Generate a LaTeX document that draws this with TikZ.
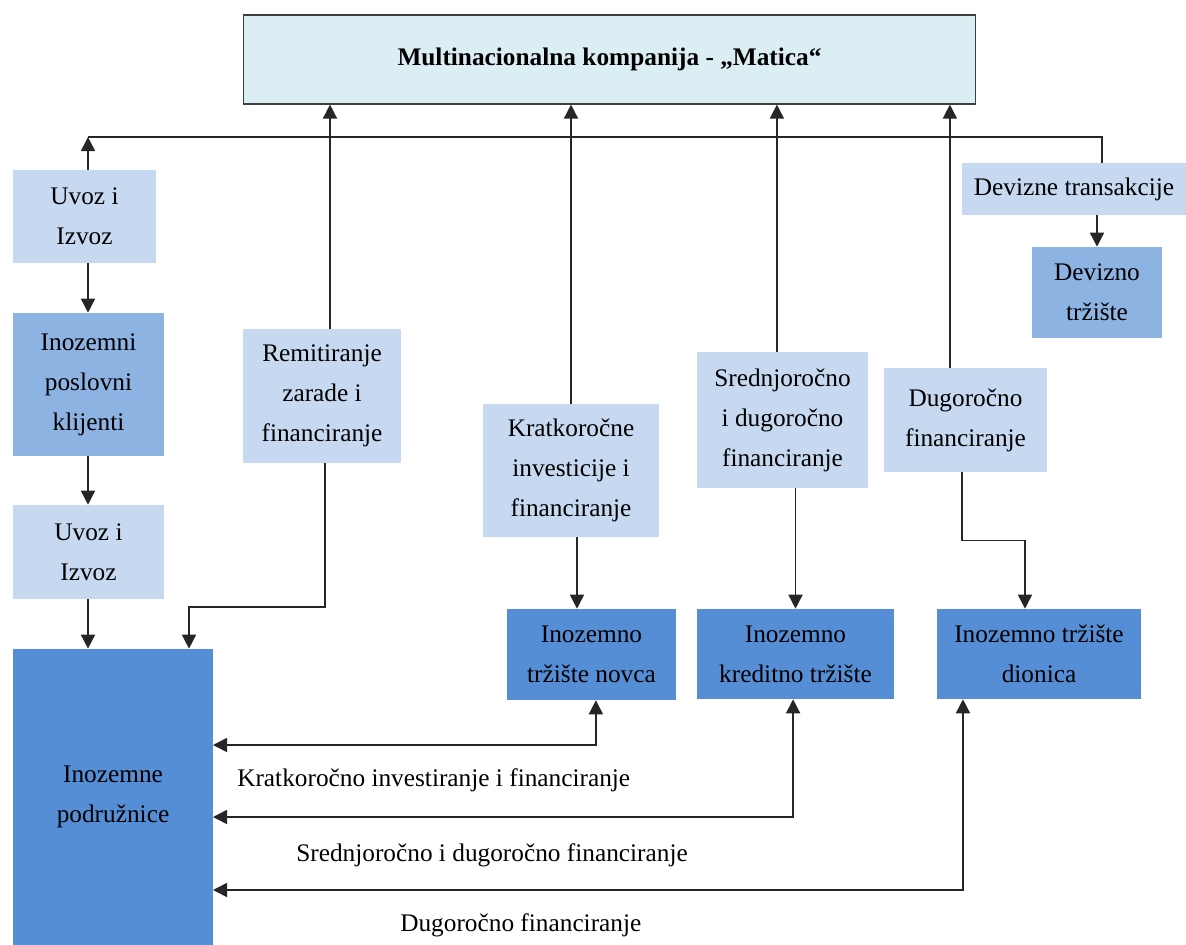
\documentclass[tikz,border=0pt]{standalone}
\usepackage{fontspec}
\setmainfont{Liberation Serif}
\usetikzlibrary{arrows.meta}

\definecolor{maticaboja}{HTML}{DAEEF3}
\definecolor{svijetla}{HTML}{C6D9F1}
\definecolor{srednja}{HTML}{8DB3E2}
\definecolor{tamna}{HTML}{558ED5}

\tikzset{
  blok/.style={inner sep=0pt, align=center, text=black,
    font=\fontsize{18}{28.5}\selectfont},
  svijetli/.style={blok, fill=svijetla},
  srednji/.style={blok, fill=srednja},
  tamni/.style={blok, fill=tamna},
  strelica/.style={draw=black!85, line width=1.1pt, -{Triangle[width=10pt,length=10pt]}},
  dvostruka/.style={draw=black!85, line width=1.1pt,
    {Triangle[width=10pt,length=10pt]}-{Triangle[width=10pt,length=10pt]}},
  linija/.style={draw=black!85, line width=1.1pt},
  natpis/.style={inner sep=0pt, anchor=west, text=black,
    font=\fontsize{18}{28.5}\selectfont}
}

\begin{document}
\begin{tikzpicture}[x=0.025cm, y=-0.025cm]
        \useasboundingbox (0,0) rectangle (1186,945);

        % matica
        \node[blok, fill=maticaboja, draw=black!75, line width=0.8pt,
              minimum width=18.275cm, minimum height=2.225cm,
              font=\fontsize{18}{28.5}\selectfont\bfseries] (matica) at (609.5,59.5)
              {Multinacionalna kompanija - „Matica“};

        % lijevi stupac
        \node[svijetli, minimum width=3.575cm, minimum height=2.325cm] (uvozA) at (84.5,216.5) {Uvoz i\\Izvoz};
        \node[srednji, minimum width=3.775cm, minimum height=3.575cm] (klijenti) at (88.5,384.5) {Inozemni\\poslovni\\klijenti};
        \node[svijetli, minimum width=3.775cm, minimum height=2.35cm] (uvozB) at (88.5,552) {Uvoz i\\Izvoz};
        \node[tamni, minimum width=5cm, minimum height=7.4cm] (podr) at (113,797) {Inozemne\\podružnice};

        % tokovi prema matici
        \node[svijetli, minimum width=3.95cm, minimum height=3.35cm] (remit) at (322,396) {Remitiranje\\zarade i\\financiranje};
        \node[svijetli, minimum width=4.4cm, minimum height=3.325cm] (kratk) at (571,470.5) {Kratkoročne\\investicije i\\financiranje};
        \node[svijetli, minimum width=4.275cm, minimum height=3.4cm] (sred) at (782.5,420) {Srednjoročno\\i dugoročno\\financiranje};
        \node[svijetli, minimum width=4.075cm, minimum height=2.6cm] (dugo) at (965.5,420) {Dugoročno\\financiranje};
        \node[svijetli, minimum width=5.6cm, minimum height=1.3cm] (devtr) at (1074,189) {Devizne transakcije};
        \node[srednji, minimum width=3.25cm, minimum height=2.275cm] (devtz) at (1097,292.5) {Devizno\\tržište};

        % trzista
        \node[tamni, minimum width=4.225cm, minimum height=2.275cm] (novac) at (591.5,654.5) {Inozemno\\tržište novca};
        \node[tamni, minimum width=4.925cm, minimum height=2.25cm] (kredit) at (795.5,654) {Inozemno\\kreditno tržište};
        \node[tamni, minimum width=5.1cm, minimum height=2.25cm] (dionica) at (1039,654) {Inozemno tržište\\dionica};

        % natpisi
        \node[natpis] (lab1) at (237,780) {Kratkoročno investiranje i financiranje};
        \node[natpis] (lab2) at (296,855) {Srednjoročno i dugoročno financiranje};
        \node[natpis] (lab3) at (400,925) {Dugoročno financiranje};

        % sabirnica
        \coordinate (busL) at (88,137);
        \coordinate (busR) at (1102,137);
        \draw[strelica] (uvozA.north -| busL) -- (busL);
        \draw[linija] (busL) -- (busR) -- (busR |- devtr.north);
        \draw[strelica] (devtz.north |- devtr.south) -- (devtz.north);

        % lijevi stupac
        \draw[strelica] (uvozA.south -| busL) -- (klijenti.north -| busL);
        \draw[strelica] (klijenti.south -| busL) -- (uvozB.north -| busL);
        \draw[strelica] (uvozB.south -| busL) -- (podr.north -| busL);

        % prema matici
        \coordinate (r1) at ([xshift=0.2cm]remit.north);
        \coordinate (k1) at (kratk.north);
        \coordinate (s1) at ([xshift=-0.14cm]sred.north);
        \coordinate (d1) at ([xshift=-0.39cm]dugo.south |- dugo.north);
        \foreach \t in {r1,k1,s1,d1} {
          \draw[strelica] (\t) -- (\t |- matica.south);
        }

        % prema trzistima
        \coordinate (remK) at (189,607);
        \draw[strelica] ([xshift=0.08cm]remit.south) |- (remK) -- (remK |- podr.north);
        \coordinate (k2) at ([xshift=0.15cm]kratk.south);
        \draw[strelica] (k2) -- (k2 |- novac.north);
        \draw[strelica] (kredit.north |- sred.south) -- (kredit.north);
        \coordinate (d2) at ([xshift=-0.09cm]dugo.south);
        \coordinate (d3) at ([xshift=-0.35cm]dionica.north);
        \draw[strelica] (d2) -- ++(0,68) -| (d3);

        % podruznice
        \coordinate (h1) at (213,745);
        \coordinate (h2) at (213,817);
        \coordinate (h3) at (213,890);
        \coordinate (n1) at ([xshift=0.11cm]novac.south);
        \coordinate (n2) at ([xshift=-0.06cm]kredit.south);
        \coordinate (n3) at ([xshift=-1.9cm]dionica.south);
        \draw[dvostruka] (n1) |- (h1);
        \draw[dvostruka] (n2) |- (h2);
        \draw[dvostruka] (n3) |- (h3);
      \end{tikzpicture}
\end{document}
